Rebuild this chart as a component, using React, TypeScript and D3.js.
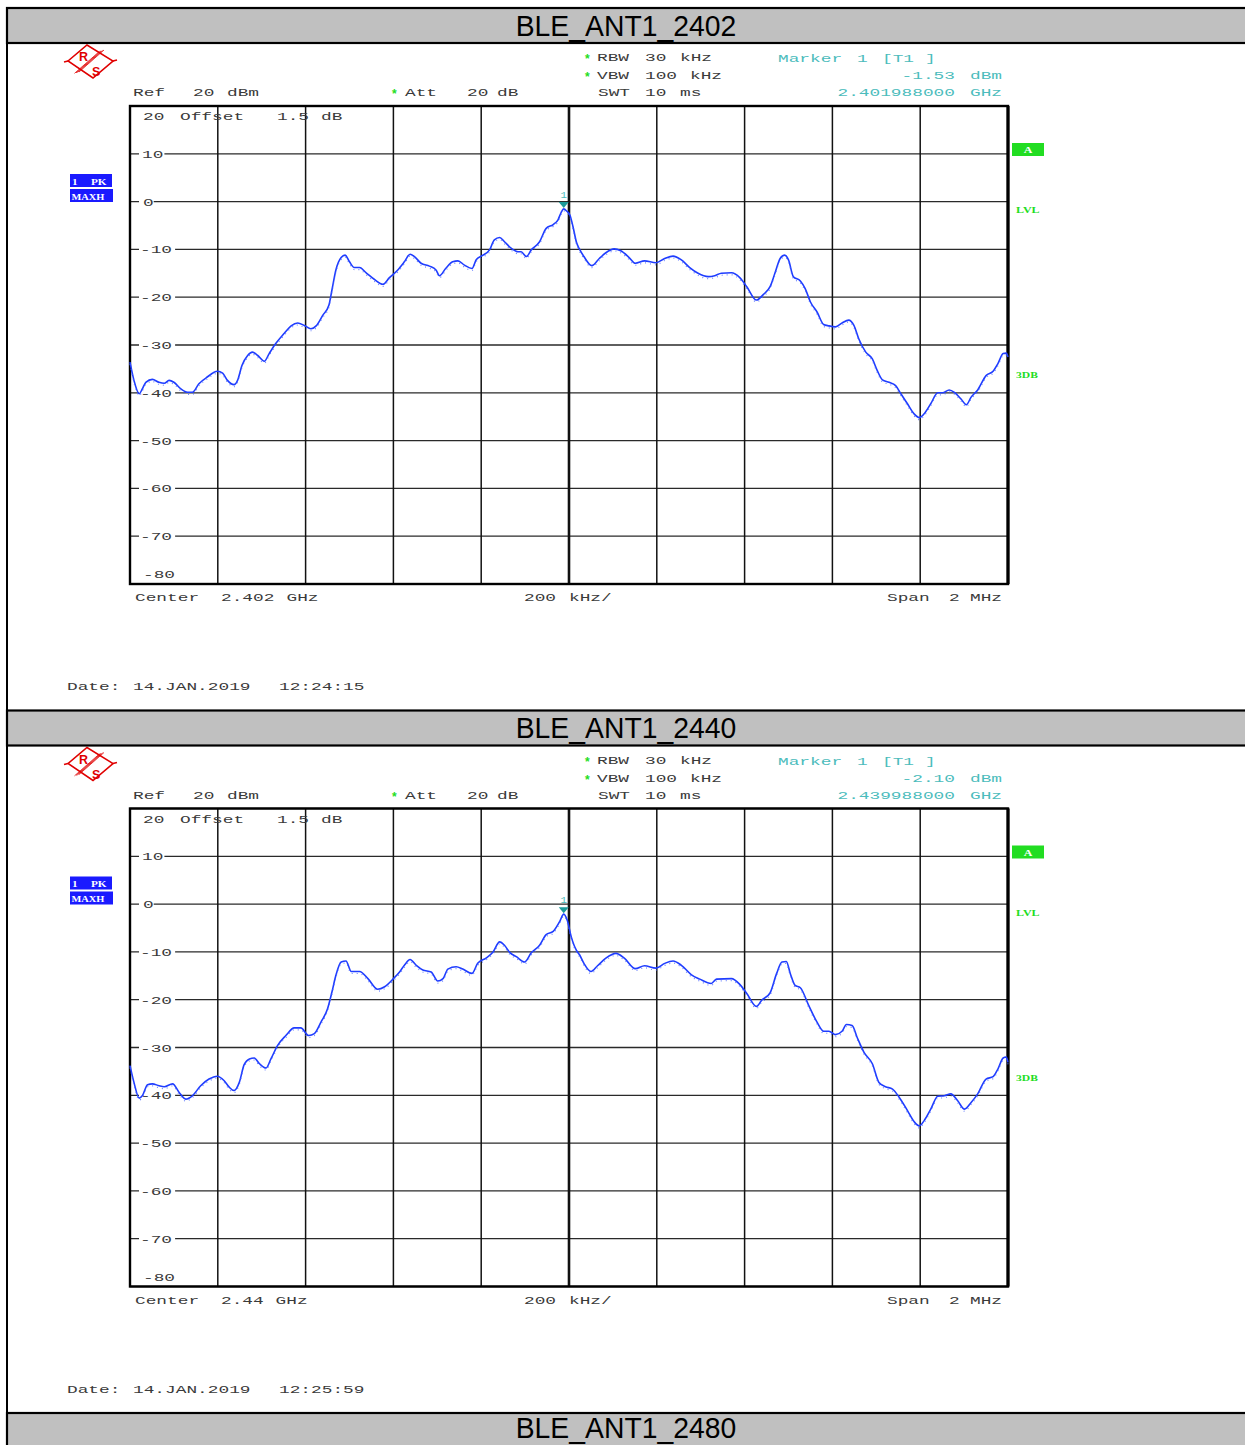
import React from "react";
import * as d3 from "d3";

// ---------- data ----------
const titles = ["BLE_ANT1_2402", "BLE_ANT1_2440", "BLE_ANT1_2480"];
const centers = ["2.402", "2.44"];
const dates = ["12:24:15", "12:25:59"];
const markerLevels = ["-1.53", "-2.10"];
const markerFreqs = ["2.401988000", "2.439988000"];
const markerOffsetKHz = [-12, -12];
const markerValues = [-1.53, -2.1];
const yTicks = [10, 0, -10, -20, -30, -40, -50, -60, -70];
const yGrid = [20, 10, 0, -10, -20, -30, -40, -50, -60, -70, -80];
const xGrid = [-1000, -800, -600, -400, -200, 0, 200, 400, 600, 800, 1000];

const trace1Freq = [-1000,-991,-979,-972,-964,-949,-934,-922,-911,-900,-884,-869,-858,-843,-824,-801,-789,-778,-763,-755,-745,-732,-721,-709,-694,-683,-668,-649,-633,-618,-603,-588,-576,-561,-547,-540,-531,-519,-510,-500,-489,-477,-462,-443,-424,-409,-390,-375,-362,-352,-337,-318,-303,-295,-281,-265,-253,-238,-221,-211,-196,-181,-170,-158,-147,-131,-116,-109,-97,-86,-67,-52,-36,-25,-18,-12,-5,2,9,17,23,34,52,69,84,103,118,137,151,172,198,218,237,256,275,294,317,332,347,370,389,405,427,443,458,469,481,491,500,511,527,538,550,565,580,592,607,622,637,649,660,676,691,702,714,729,744,756,771,786,798,809,824,840,851,866,878,893,905,916,931,950,966,977,989,996,1000];
const trace1Level = [-33.6,-37.4,-40.2,-39.2,-37.8,-37.2,-37.8,-38.0,-37.4,-37.8,-39.2,-39.9,-39.9,-38.1,-36.7,-35.5,-35.9,-37.4,-38.3,-37.4,-34.3,-32.2,-31.5,-32.2,-33.4,-31.8,-29.7,-27.6,-26.0,-25.4,-25.9,-26.6,-26.0,-23.8,-21.7,-18.5,-14.3,-11.7,-11.2,-12.6,-13.8,-13.8,-14.9,-16.3,-17.3,-15.9,-14.3,-12.6,-11.0,-11.5,-12.9,-13.5,-14.3,-15.5,-14.0,-12.6,-12.4,-13.3,-14.0,-12.1,-11.2,-10.1,-8.0,-7.5,-8.4,-9.8,-10.5,-10.5,-11.5,-10.1,-8.4,-5.6,-4.8,-3.8,-2.3,-1.53,-2.0,-2.8,-5.2,-8.5,-9.8,-11.5,-13.4,-11.9,-10.7,-9.9,-10.3,-11.7,-12.9,-12.4,-12.8,-11.9,-11.4,-12.2,-13.8,-15.0,-15.7,-15.5,-15.0,-14.9,-15.9,-17.8,-20.6,-19.4,-17.8,-15.0,-11.9,-11.2,-12.2,-15.7,-16.6,-18.2,-21.0,-23.1,-25.7,-26.0,-26.2,-25.4,-24.8,-25.9,-28.7,-31.5,-32.9,-35.3,-37.3,-37.8,-38.5,-40.2,-42.3,-44.4,-45.2,-44.4,-42.3,-40.0,-40.0,-39.4,-39.9,-41.3,-42.5,-40.9,-39.4,-36.4,-35.5,-33.9,-31.8,-31.7,-32.5];

const trace2Freq = [-1000,-991,-979,-972,-960,-949,-934,-922,-903,-888,-873,-858,-839,-820,-801,-786,-774,-763,-751,-740,-728,-717,-705,-690,-679,-664,-645,-626,-611,-593,-580,-565,-550,-540,-531,-519,-508,-496,-477,-458,-436,-420,-401,-386,-375,-362,-348,-333,-314,-299,-287,-276,-257,-242,-221,-208,-189,-173,-158,-147,-135,-120,-101,-86,-67,-52,-36,-21,-12,-4,5,17,24,34,50,65,84,107,126,151,172,198,218,237,256,279,298,324,336,370,389,405,427,439,458,473,485,495,504,515,527,546,565,580,592,607,622,632,645,656,672,691,706,721,737,752,771,786,798,809,824,840,855,870,885,901,916,931,950,966,977,989,996,1000];
const trace2Level = [-33.8,-37.3,-40.6,-40.1,-37.8,-37.6,-38.0,-38.2,-37.6,-39.4,-40.8,-40.1,-38.0,-36.6,-36.0,-36.9,-38.3,-39.0,-37.3,-33.6,-32.4,-32.2,-33.4,-34.3,-32.4,-29.6,-27.5,-25.9,-25.9,-27.5,-27.1,-24.7,-21.9,-18.4,-14.9,-12.1,-11.9,-14.1,-14.1,-15.6,-17.8,-17.3,-15.7,-14.2,-12.8,-11.6,-12.8,-13.8,-14.2,-16.1,-15.6,-13.6,-13.1,-13.6,-14.5,-12.4,-11.3,-10.0,-7.9,-8.6,-10.1,-11.0,-12.1,-10.2,-8.6,-6.4,-5.7,-3.6,-2.1,-3.4,-6.8,-9.7,-10.6,-12.4,-14.1,-12.9,-11.3,-10.3,-11.3,-13.5,-12.9,-13.4,-12.4,-11.9,-12.8,-14.8,-15.7,-16.6,-15.7,-15.6,-16.8,-18.7,-21.4,-20.1,-18.6,-14.5,-12.1,-12.0,-14.5,-17.0,-17.5,-21.2,-24.7,-26.6,-26.6,-27.3,-26.6,-25.2,-25.4,-27.8,-31.0,-33.4,-37.3,-38.2,-38.7,-40.4,-43.2,-45.5,-46.4,-45.3,-42.9,-40.2,-40.1,-39.7,-41.1,-42.9,-41.5,-39.7,-36.6,-36.1,-34.5,-32.2,-32.0,-33.1];

const traces = [
  { freq: trace1Freq, level: trace1Level },
  { freq: trace2Freq, level: trace2Level },
];

// ---------- layout ----------
const W = 1245;
const H = 1445;
const PANEL_DY = 702.5;
const PLOT = { left: 130, right: 1008, top: 106, bottom: 584 };
const MONO = "'Liberation Mono', 'DejaVu Sans Mono', monospace";
const TXT = "#3a3a3a";
const TEAL = "#4cbcbc";
const GREEN = "#22dd22";

function T({ x, y, s, fill = TXT, anchor = "start", sx = 1.62, size = 11, weight = "normal", family = MONO }: any) {
  return (
    <text
      transform={`translate(${x},${y}) scale(${sx},1)`}
      fontFamily={family}
      fontSize={size}
      fontWeight={weight}
      fill={fill}
      textAnchor={anchor}
    >
      {s}
    </text>
  );
}

function TitleBar({ dy, title }: { dy: number; title: string }) {
  const base = Math.min(dy + 35.5, H - 7);
  return (
    <g>
      <rect x={7} y={dy + 8} width={W} height={35} fill="#c0c0c0" stroke="#000" strokeWidth={2.2} />
      <text
        transform={`translate(626,${base}) scale(1.05,1.08)`}
        textAnchor="middle"
        fontFamily="'Liberation Sans', Arial, sans-serif"
        fontSize={27}
        fill="#000"
      >
        {title}
      </text>
    </g>
  );
}

function Logo() {
  return (
    <g stroke="#e00000" fill="none" strokeWidth={1.6}>
      <polygon points="68,61 87,45 113,61 93,78" fill="#fff" />
      <line x1={64} y1={62} x2={68} y2={61} />
      <line x1={113} y1={61} x2={117} y2={60} />
      {[0, 1.5, 3, 4.5].map((o, i) => (
        <line key={i} x1={104 - o} y1={50 + o * 0.3} x2={79 - o} y2={72 + o * 0.3} strokeWidth={0.8} />
      ))}
      <text x={79} y={61} fontFamily="'Liberation Sans', Arial" fontSize={12.5} fontWeight="bold" fill="#e00000" stroke="none">R</text>
      <text x={92} y={76} fontFamily="'Liberation Sans', Arial" fontSize={12.5} fontWeight="bold" fill="#e00000" stroke="none">S</text>
    </g>
  );
}

function Star({ x, y }: { x: number; y: number }) {
  return (
    <text x={x} y={y} fontFamily="'Liberation Sans', Arial, sans-serif" fontSize={12} fontWeight="bold" fill={GREEN}>
      *
    </text>
  );
}

function Panel({ idx }: { idx: number }) {
  const dy = idx * PANEL_DY;
  const x = d3.scaleLinear().domain([-1000, 1000]).range([PLOT.left, PLOT.right]);
  const y = d3.scaleLinear().domain([-80, 20]).range([PLOT.bottom, PLOT.top]);
  const tr = traces[idx];
  const pts: [number, number][] = tr.freq.map((f, i) => [f, tr.level[i]]);
  const line = d3
    .line<[number, number]>()
    .x((d) => x(d[0]))
    .y((d) => y(d[1]))
    .curve(d3.curveMonotoneX);
  const path = line(pts) || "";
  const mx = x(markerOffsetKHz[idx]);
  const my = y(markerValues[idx]);
  const cw = 10.7;
  const centerStr = centers[idx];

  return (
    <g transform={`translate(0,${dy})`}>
      <Logo />
      {/* header texts */}
      <Star x={585} y={63} />
      <T x={597} y={61} s="RBW" />
      <T x={645} y={61} s="30" />
      <T x={680} y={61} s="kHz" />
      <Star x={585} y={81} />
      <T x={597} y={79} s="VBW" />
      <T x={645} y={79} s="100" />
      <T x={690} y={79} s="kHz" />
      <T x={598} y={96} s="SWT" />
      <T x={645} y={96} s="10" />
      <T x={680} y={96} s="ms" />

      <T x={778} y={62} s="Marker" fill={TEAL} />
      <T x={857} y={62} s="1" fill={TEAL} />
      <T x={882} y={62} s="[T1" fill={TEAL} />
      <T x={925} y={62} s="]" fill={TEAL} />
      <T x={955} y={79} s={markerLevels[idx]} fill={TEAL} anchor="end" />
      <T x={1002} y={79} s="dBm" fill={TEAL} anchor="end" />
      <T x={955} y={96} s={markerFreqs[idx]} fill={TEAL} anchor="end" />
      <T x={1002} y={96} s="GHz" fill={TEAL} anchor="end" />

      <T x={133} y={96} s="Ref" />
      <T x={193} y={96} s="20" />
      <T x={227} y={96} s="dBm" />
      <Star x={392} y={98} />
      <T x={405} y={96} s="Att" />
      <T x={467} y={96} s="20" />
      <T x={497} y={96} s="dB" />

      {/* side labels */}
      <rect x={70} y={174} width={42} height={13} fill="#1a1aff" />
      <rect x={70} y={189} width={43} height={13} fill="#1a1aff" />
      <T x={72} y={184.5} s="1" fill="#fff" size={8} weight="bold" sx={1.4} family="'Liberation Serif', serif" />
      <T x={91} y={184.5} s="PK" fill="#fff" size={8} weight="bold" sx={1.4} family="'Liberation Serif', serif" />
      <T x={71.5} y={199.5} s="MAXH" fill="#fff" size={8} weight="bold" sx={1.3} family="'Liberation Serif', serif" />

      <rect x={1012} y={143} width={32} height={13} fill={GREEN} />
      <T x={1028} y={153} s="A" fill="#fff" size={8} weight="bold" sx={1.5} anchor="middle" family="'Liberation Serif', serif" />
      <T x={1016} y={213} s="LVL" fill={GREEN} size={8} weight="bold" sx={1.5} family="'Liberation Serif', serif" />
      <T x={1016} y={378} s="3DB" fill={GREEN} size={8} weight="bold" sx={1.45} family="'Liberation Serif', serif" />

      {/* grid */}
      {yGrid.map((v) => (
        <line key={"h" + v} x1={PLOT.left} x2={PLOT.right} y1={y(v)} y2={y(v)} stroke="#2a2a2a" strokeWidth={1.3} />
      ))}
      {xGrid.map((v) => (
        <line key={"v" + v} x1={x(v)} x2={x(v)} y1={PLOT.top} y2={PLOT.bottom} stroke="#111" strokeWidth={v === 0 ? 2.6 : 1.5} />
      ))}
      {yTicks.map((v) => {
        const s = String(v);
        const lx = v < 0 ? 140 : v === 0 ? 143 : 142;
        return (
          <g key={"yl" + v}>
            <rect x={139} y={y(v) - 5} width={s.length * cw + 4} height={10} fill="#fff" />
            <T x={lx} y={y(v) + 4} s={s} />
          </g>
        );
      })}
      <rect x={PLOT.left} y={PLOT.top} width={PLOT.right - PLOT.left} height={PLOT.bottom - PLOT.top} fill="none" stroke="#000" strokeWidth={2.4} />
      <line x1={PLOT.right} x2={PLOT.right} y1={PLOT.top} y2={PLOT.bottom} stroke="#000" strokeWidth={3.2} />

      <T x={143} y={120} s="20" />
      <T x={180} y={120} s="Offset" />
      <T x={277} y={120} s="1.5" />
      <T x={321} y={120} s="dB" />
      <T x={143} y={578} s="-80" />

      {/* trace */}
      <path d={path} fill="none" stroke="#1f3dff" strokeWidth={1.6} strokeLinejoin="round" />
      <path d={path} fill="none" stroke="#4a66ff" strokeWidth={1.2} strokeDasharray="1 4" transform="translate(0,2)" opacity={0.8} />

      {/* marker */}
      <polygon points={`${mx - 5},${my - 7} ${mx + 5},${my - 7} ${mx},${my - 1}`} fill="#1a9a9a" />
      <T x={mx} y={my - 11} s="1" fill={TEAL} anchor="middle" size={9} sx={1.2} />

      {/* footer */}
      <T x={135} y={601} s="Center" />
      <T x={221} y={601} s={centerStr} />
      <T x={221 + centerStr.length * 10.9 + 11} y={601} s="GHz" />
      <T x={524} y={601} s="200" />
      <T x={569} y={601} s="kHz/" />
      <T x={887} y={601} s="Span" />
      <T x={949} y={601} s="2" />
      <T x={970} y={601} s="MHz" />
      <T x={67} y={690} s="Date:" />
      <T x={133} y={690} s="14.JAN.2019" />
      <T x={279} y={690} s={dates[idx]} />
    </g>
  );
}

export default function App() {
  return (
    <svg width={W} height={H} viewBox={`0 0 ${W} ${H}`} style={{ position: "absolute", left: 0, top: 0, display: "block", background: "#fff" }}>
      <rect x={0} y={0} width={W} height={H} fill="#fff" />
      <line x1={7} x2={7} y1={8} y2={H} stroke="#000" strokeWidth={2} />
      <Panel idx={0} />
      <Panel idx={1} />
      {titles.map((t, i) => (
        <TitleBar key={t} dy={i * PANEL_DY} title={t} />
      ))}
    </svg>
  );
}
